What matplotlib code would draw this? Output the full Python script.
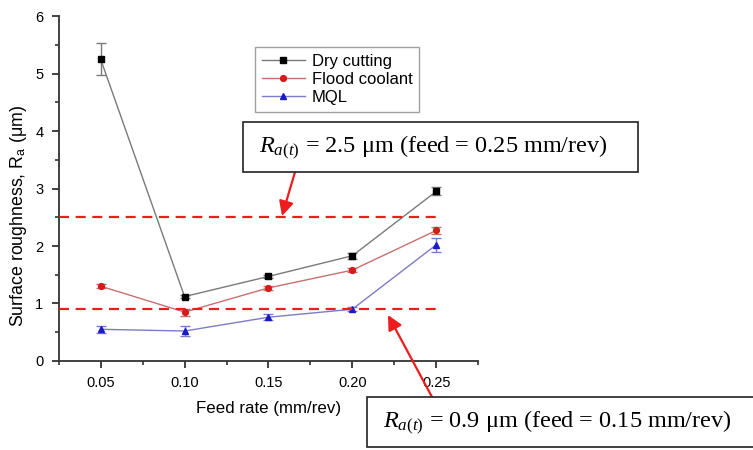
import matplotlib.pyplot as plt
from matplotlib.lines import Line2D
from matplotlib.patches import Rectangle
from matplotlib.ticker import MultipleLocator, FormatStrFormatter

plt.rcParams['font.family'] = ['Liberation Sans', 'DejaVu Sans']
plt.rcParams['mathtext.fontset'] = 'custom'
plt.rcParams['mathtext.rm'] = 'Liberation Serif'
plt.rcParams['mathtext.it'] = 'Liberation Serif:italic'
plt.rcParams['mathtext.sf'] = 'Liberation Sans'

feed = [0.05, 0.10, 0.15, 0.20, 0.25]

dry = [5.25, 1.12, 1.47, 1.83, 2.95]
dry_err = [0.28, 0.03, 0.03, 0.05, 0.07]
flood = [1.30, 0.85, 1.27, 1.58, 2.27]
flood_err = [0.03, 0.06, 0.03, 0.03, 0.06]
mql = [0.55, 0.52, 0.76, 0.90, 2.02]
mql_err = [0.06, 0.08, 0.05, 0.03, 0.12]

ra_limit_high = 2.5
ra_limit_low = 0.9

series = [
    ('Dry cutting', dry, dry_err, 's', '#000000', '#7a7a7a'),
    ('Flood coolant', flood, flood_err, 'o', '#d41c1c', '#c87070'),
    ('MQL', mql, mql_err, '^', '#1a1ac8', '#7c7cc4'),
]

W, H = 753, 450
fig = plt.figure(figsize=(W / 100, H / 100), dpi=100)
ax = fig.add_axes([0.078, 0.198, 0.557, 0.766])


def fpx(x, y):
    # pixel position (top-left origin) -> figure fraction
    return x / W, 1 - y / H


handles = []
for name, y, yerr, mk, mc, lc in series:
    ax.errorbar(feed, y, yerr=yerr, fmt='none', ecolor=lc, elinewidth=1.0,
                capsize=3.5, capthick=1.0, zorder=2)
    ax.plot(feed, y, color=lc, lw=1.0, zorder=3)
    ax.plot(feed, y, ls='none', marker=mk, ms=4.2, mfc=mc, mec=mc, zorder=4)
    handles.append(Line2D([], [], color=lc, lw=1.0, marker=mk, ms=4.2,
                          mfc=mc, mec=mc, label=name))

# threshold lines
for lvl in (ra_limit_high, ra_limit_low):
    ax.plot([0.025, 0.2515], [lvl, lvl], color='#ee1c1c', lw=1.6,
            ls=(0, (4.5, 3)), zorder=5, clip_on=False)

ax.set_xlim(0.025, 0.275)
ax.set_ylim(0, 6)
ax.xaxis.set_major_locator(MultipleLocator(0.05))
ax.xaxis.set_minor_locator(MultipleLocator(0.025))
ax.xaxis.set_major_formatter(FormatStrFormatter('%.2f'))
ax.yaxis.set_major_locator(MultipleLocator(1))
ax.yaxis.set_minor_locator(MultipleLocator(0.5))
ax.set_xticks([0.05, 0.10, 0.15, 0.20, 0.25])

for side in ('top', 'right'):
    ax.spines[side].set_visible(False)
for side in ('left', 'bottom'):
    ax.spines[side].set_linewidth(1.3)
    ax.spines[side].set_color('#333333')
ax.tick_params(which='major', direction='out', length=5, width=1.3,
               labelsize=10.5, color='#333333', pad=6)
ax.tick_params(which='minor', direction='out', length=3, width=1.2,
               color='#333333')

ax.set_xlabel('Feed rate (mm/rev)', fontsize=12.2, labelpad=8)
ax.set_ylabel('Surface roughness, R$_\\mathsf{a}$ (μm)', fontsize=12.8)
ax.yaxis.set_label_coords(-0.07, 0.42)

leg = fig.legend(handles=handles, loc='upper left',
                 bbox_to_anchor=fpx(255, 47),
                 fontsize=12, frameon=True, fancybox=False,
                 handlelength=2.6, handletextpad=0.4, borderpad=0.4,
                 labelspacing=0.2, borderaxespad=0)
leg.get_frame().set_edgecolor('#888888')
leg.get_frame().set_linewidth(1.0)

serif = ['Liberation Serif', 'DejaVu Serif']
labels = [
    ('$R_{a(t)}$ = 2.5 μm (feed = 0.25 mm/rev)', (243, 122, 638, 172), 259),
    ('$R_{a(t)}$ = 0.9 μm (feed = 0.15 mm/rev)', (367, 397, 770, 447), 383),
]
for txt, (x0, y0, x1, y1), tx in labels:
    fig.patches.append(Rectangle(fpx(x0, y1), (x1 - x0) / W, (y1 - y0) / H,
                                 transform=fig.transFigure, fc='white',
                                 ec='#222222', lw=1.2, zorder=6))
    fig.text(*fpx(tx, (y0 + y1) / 2 + 1), txt, ha='left', va='center',
             fontsize=17.5, family=serif, zorder=7)

# arrows from the boxes to the threshold lines
for tail, head in (((295, 172), (282, 216)), ((432, 397), (388, 315))):
    fig.add_artist(plt.Annotation(
        '', xy=fpx(*head), xycoords='figure fraction',
        xytext=fpx(*tail), textcoords='figure fraction',
        arrowprops=dict(arrowstyle='-|>', color='#ee1c1c', lw=1.6,
                        mutation_scale=22, shrinkA=0, shrinkB=0)))

fig.savefig('out.png', dpi=100)
